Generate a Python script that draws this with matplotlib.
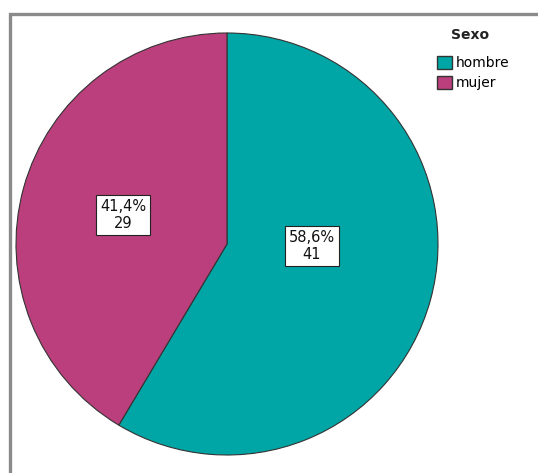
import matplotlib.pyplot as plt
from matplotlib.patches import Rectangle, Patch

categories = ["hombre", "mujer"]
counts = [41, 29]
percent_labels = ["58,6%", "41,4%"]
colors = ["#00A5A5", "#BA3F7C"]

W, H = 538, 473
fig = plt.figure(figsize=(W / 100, H / 100), dpi=100)
ax = fig.add_axes([0, 0, 1, 1])
ax.set_xlim(0, W)
ax.set_ylim(0, H)
ax.set_aspect("equal")
ax.axis("off")

# outer grey frame (runs off the right and bottom edge)
ax.add_patch(Rectangle((9.5, -20), 600, H - 14.5 + 20, fill=False,
                       edgecolor="#8a8a8a", linewidth=2.4))

cx, cy, r = 227, H - 244, 211
wedges, _ = ax.pie(counts, colors=colors, startangle=90, counterclock=False,
                   center=(cx, cy), radius=r, frame=True,
                   wedgeprops=dict(edgecolor="#333333", linewidth=0.8))
ax.set_xlim(0, W)
ax.set_ylim(0, H)
ax.axis("off")

# label positions (px) as SPSS places them
label_pos = [(312, H - 246), (123, H - 215)]
for (x, y), pct, n in zip(label_pos, percent_labels, counts):
    ax.text(x, y, f"{pct}\n{n}", ha="center", va="center", fontsize=10.5,
            linespacing=1.1, color="#111111",
            bbox=dict(boxstyle="square,pad=0.28", facecolor="white",
                      edgecolor="#222222", linewidth=0.8))

# legend
ax.text(470, H - 35, "Sexo", ha="center", va="center", fontsize=10,
        fontweight="bold", color="#222222")
handles = [Patch(facecolor=c, edgecolor="#333333", label=l)
           for c, l in zip(colors, categories)]
leg = ax.legend(handles=handles, loc="upper left",
                bbox_to_anchor=(434 / W, 1 - 53 / H), frameon=False,
                fontsize=10, handlelength=1.1, handleheight=1.1,
                handletextpad=0.3, labelspacing=0.4, borderpad=0.2,
                borderaxespad=0)

fig.savefig("out.png", dpi=100)
